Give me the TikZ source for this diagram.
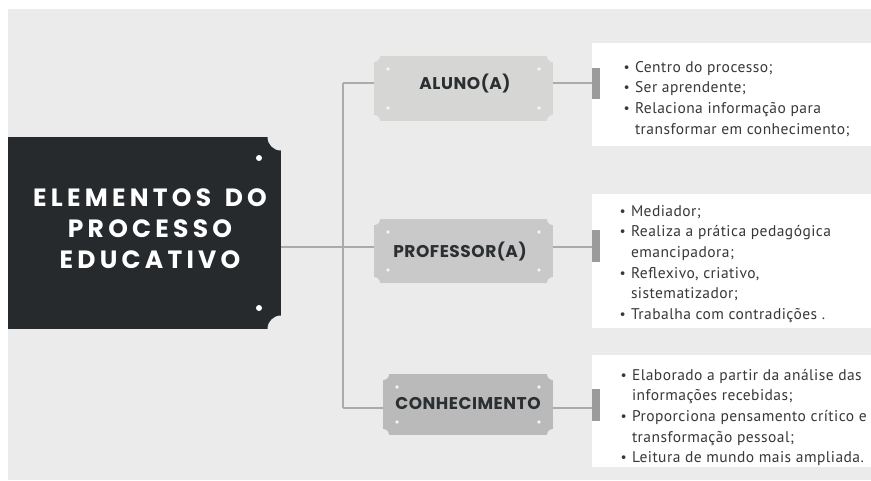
\documentclass[tikz,border=0pt]{standalone}
\usepackage{fontspec}
\setmainfont{PT Sans}
\newfontfamily\headfont{Poppins}[LetterSpace=17]
\newfontfamily\tagfont{Poppins}[LetterSpace=3]
\newfontfamily\listfont{PT Sans}[LetterSpace=3]
\newfontfamily\dotfont{DejaVu Sans}
\usetikzlibrary{calc}

\definecolor{bgray}{HTML}{EBEBEB}
\definecolor{slate}{HTML}{262A2D}
\definecolor{tagA}{HTML}{D6D7D5}
\definecolor{tagB}{HTML}{C9C9C9}
\definecolor{tagC}{HTML}{B9BAB9}
\definecolor{tagtext}{HTML}{2B2F31}
\definecolor{listtext}{HTML}{383838}
\definecolor{barcol}{HTML}{9B9B9B}
\definecolor{linecol}{HTML}{ABABAB}
\definecolor{dotcol}{HTML}{F4F4F4}

\tikzset{
  every node/.style={inner sep=0pt, outer sep=0pt},
  conn/.style={draw=linecol, line width=1.1pt},
  titlebox/.style={fill=slate, minimum width=273pt, minimum height=192pt},
  titletext/.style={text=white, align=center,
    font=\headfont\bfseries\fontsize{25}{31}\selectfont},
  tagbox/.style={minimum width=179pt, minimum height=65pt},
  tagtext/.style={text=tagtext, font=\tagfont\bfseries\fontsize{17}{20}\selectfont},
  panel/.style={fill=white, minimum width=279pt},
  sidebar/.style={fill=barcol, minimum width=8pt, minimum height=31pt},
  listtext/.style={text=listtext, anchor=base west,
    font=\listfont\fontsize{15.5}{20.7}\selectfont},
}
\newcommand{\itm}{\llap{{\dotfont\fontsize{13}{13}\selectfont •}\hspace{4.5pt}}}

\begin{document}
\begin{tikzpicture}[x=1pt, y=-1pt]
  % page and grey backdrop
  \fill[white] (0,0) rectangle (871,480);
  \useasboundingbox (0,0) rectangle (871,480);
  \fill[bgray] (8,9) rectangle (871,480);

  % white description panels
  \node[panel, minimum height=103pt] (p1) at (731.5,94.5) {};
  \node[panel, minimum height=134pt] (p2) at (731.5,261) {};
  \node[panel, minimum height=112pt] (p3) at (731.5,411) {};

  % junction points on the trunk
  \coordinate (jt) at (343,83);
  \coordinate (jm) at (343,247);
  \coordinate (jb) at (343,408);

  % title plate
  \node[titlebox] (title) at (144.5,233) {};
  \foreach \c in {north east, south east}
    \fill[bgray] (title.\c) circle (13.5pt);
  \fill[white] ($(title.north east)+(-22,21)$) circle (3pt);
  \fill[white] ($(title.south east)+(-22,-21)$) circle (3pt);
  \node[titletext] (titletxt) at (150,229) {ELEMENTOS\hspace{4pt} DO\\PROCESSO\\EDUCATIVO};

  % tag plates
  \node[tagbox, fill=tagA] (aluno) at (463.5,88.5) {};
  \node[tagbox, fill=tagB, minimum height=64pt] (prof) at (463.5,251) {};
  \node[tagbox, fill=tagC, minimum width=170pt, minimum height=61pt] (conh) at (468,404.5) {};
  \foreach \n in {aluno, prof, conh} {
    \foreach \c in {north east, north west, south east, south west}
      \fill[bgray] (\n.\c) circle (6pt);
    \fill[dotcol] ($(\n.north west)+(14,13)$) circle (1.8pt);
    \fill[dotcol] ($(\n.north east)+(-14,13)$) circle (1.8pt);
    \fill[dotcol] ($(\n.south west)+(14,-13)$) circle (1.8pt);
    \fill[dotcol] ($(\n.south east)+(-14,-13)$) circle (1.8pt);
  }
  \node[tagtext] (alunotxt) at (465,84) {ALUNO(A)};
  \node[tagtext] (proftxt) at (460,252) {PROFESSOR(A)};
  \node[tagtext] (conhtxt) at (468,404) {CONHECIMENTO};

  % side bars at the panels
  \node[sidebar] (b1) at (596,83.5) {};
  \node[sidebar, minimum height=32pt] (b2) at (596,246) {};
  \node[sidebar, minimum height=32pt] (b3) at (596,405) {};

  % connectors
  \draw[conn] (jt) -- (jb);
  \draw[conn] (title.east |- jm) -- (prof.west |- jm);
  \draw[conn] (jt) -- (aluno.west |- jt);
  \draw[conn] (jb) -- (conh.west |- jb);
  \draw[conn] (aluno.east |- jt) -- (b1.west |- jt);
  \draw[conn] (prof.east |- jm) -- (b2.west |- jm);
  \draw[conn] (conh.east |- jb) -- (b3.west |- jb);

  % panel texts
  \node[listtext] (l1) at (635,72) {\begin{tabular}[t]{@{}l@{}}
    \itm Centro do processo;\\
    \itm Ser aprendente;\\
    \itm Relaciona informação para\\
    transformar em conhecimento;
  \end{tabular}};
  \node[listtext] (l2) at (631,216) {\begin{tabular}[t]{@{}l@{}}
    \itm Mediador;\\
    \itm Realiza a prática pedagógica\\
    emancipadora;\\
    \itm Reflexivo, criativo,\\
    sistematizador;\\
    \itm Trabalha com contradições .
  \end{tabular}};
  \node[listtext] (l3) at (632,380) {\begin{tabular}[t]{@{}l@{}}
    \itm Elaborado a partir da análise das\\
    informações recebidas;\\
    \itm Proporciona pensamento crítico e\\
    transformação pessoal;\\
    \itm Leitura de mundo mais ampliada.
  \end{tabular}};
\end{tikzpicture}
\end{document}
